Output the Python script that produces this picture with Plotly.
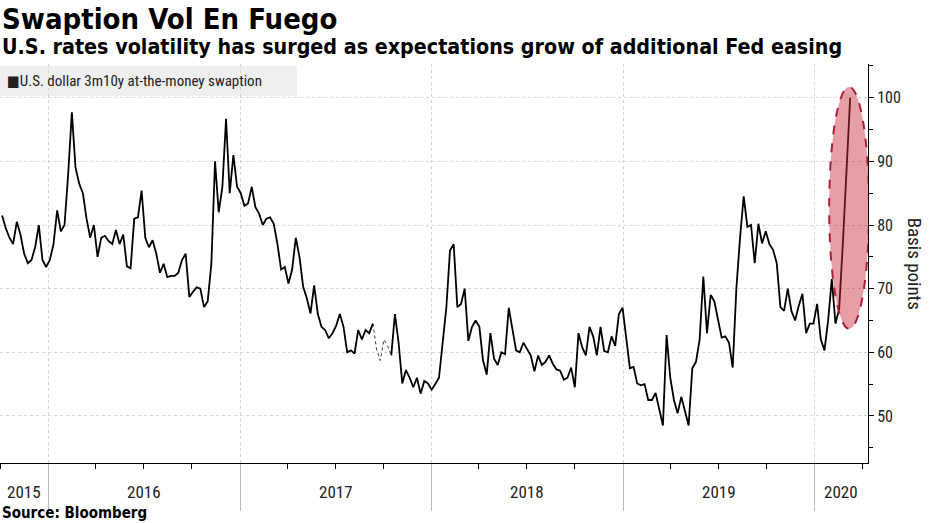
import pandas as pd
import plotly.graph_objects as go

# Weekly readings of the U.S. dollar 3m10y ATM swaption normal vol (bp)
start_date = "2015-10-05"
vol = [
    81.5, 79.5, 78, 77, 80.5, 78.5, 75.5, 74, 74.5, 76.5,
    80, 74.5, 73.4, 74.5, 77, 82.3, 79, 80, 88, 97.7,
    89, 86.5, 85, 81, 78, 80, 75, 78, 78.3, 77.5,
    77, 79.2, 77, 78.5, 73.5, 73.2, 81, 81.2, 85.4, 78,
    76.5, 77.6, 75.5, 72.5, 73.9, 71.8, 72, 72, 72.5, 74.5,
    75.5, 68.7, 69.5, 70.2, 70, 67.1, 68, 73.9, 90, 82,
    86, 96.7, 85, 91, 86, 85, 83, 83.4, 86, 82.8,
    81.8, 80, 81, 81.2, 80.2, 77, 73, 73.4, 70.8, 73,
    78, 75, 70.3, 68.5, 66.1, 70.5, 66, 64, 63.5, 62.2,
    63, 64.2, 66, 64, 60, 60.3, 59.8, 63.5, 62, 63.5,
    63, 64.5, None, None, None, None, 59.5, 66, 61.5, 55.1,
    57.2, 56, 54.5, 56, 53.5, 55.5, 55.1, 54.1, 55, 56,
    61.5, 67, 76, 77, 67.1, 67.6, 70, 61.8, 64, 65,
    64, 58.7, 56.5, 63, 59, 58, 60, 59.7, 67, 63.5,
    60.3, 60, 61.5, 60.5, 59.5, 57, 59.5, 58, 58.5, 59.5,
    58.2, 57.3, 57.1, 55.7, 56, 57.6, 54.5, 63, 60.8, 59.5,
    64, 62.5, 59.5, 64, 60.2, 60, 62.5, 61, 66, 67,
    62, 57.5, 57.7, 55.1, 54.8, 55, 52.5, 52.5, 53.6, 50.8,
    48.5, 62.7, 56, 52.5, 50.4, 53, 50.9, 48.5, 57.5, 58.5,
    62, 71.9, 63, 69, 68, 65.3, 62.3, 62.5, 61.5, 57.6,
    70, 78, 84.5, 79.7, 80, 74, 80.2, 77.1, 79, 77,
    76.1, 74, 67.1, 66.5, 70, 66.5, 65, 67.3, 69.2, 63,
    64.5, 64.5, 67.6, 62, 60.3, 65, 71.5, 64.5, 66.8, 77,
    89.7, 100,
]
# stretch with missing data (drawn dotted), weeks 101..106
gap_start_index = 101
gap_vals = [64.5, 60.5, 58.7, 62, 61, 59.5]

year_labels = ["2015", "2016", "2017", "2018", "2019", "2020"]
year_label_pos = ["2015-11-15", "2016-07-02", "2017-07-02", "2018-07-02", "2019-07-02", "2020-02-21"]
year_starts = ["2016-01-01", "2017-01-01", "2018-01-01", "2019-01-01", "2020-01-01"]
y_ticks = [50, 60, 70, 80, 90, 100]

dates = pd.date_range(start_date, periods=len(vol), freq="7D")
gap_dates = dates[gap_start_index:gap_start_index + len(gap_vals)]
quarters = list(pd.date_range("2015-10-01", "2020-04-01", freq="QS").strftime("%Y-%m-%d"))

NARROW = "Liberation Sans Narrow, Roboto Condensed, DejaVu Sans Condensed, Arial Narrow, sans-serif"
BOLD = "Liberation Sans Narrow, DejaVu Sans Condensed, Arial, sans-serif"

fig = go.Figure()
fig.add_trace(go.Scatter(x=gap_dates, y=gap_vals, mode="lines",
                         line=dict(color="#333333", width=1, dash="dot"),
                         hoverinfo="skip", showlegend=False))
fig.add_trace(go.Scatter(x=dates, y=vol, mode="lines",
                         line=dict(color="black", width=1.8),
                         connectgaps=False, showlegend=False,
                         name="U.S. dollar 3m10y at-the-money swaption"))

fig.update_layout(
    width=930, height=523,
    margin=dict(l=0, r=62, t=64, b=60),
    paper_bgcolor="white", plot_bgcolor="white",
    showlegend=False,
    font=dict(family=NARROW, color="#222222"),
)

fig.update_xaxes(
    range=["2015-10-01", "2020-04-12"],
    tickmode="array", tickvals=year_starts, showticklabels=False,
    ticks="outside", ticklen=47, tickcolor="#bbbbbb", tickwidth=1,
    showgrid=True, gridcolor="#d4d4d4", griddash="dot", gridwidth=1,
    showline=True, linecolor="black", linewidth=1,
    minor=dict(tickmode="array", tickvals=quarters,
               ticks="outside", ticklen=5, tickcolor="black", showgrid=False),
    zeroline=False,
)
fig.update_yaxes(
    side="right", range=[42.6, 105.3],
    tickmode="array", tickvals=y_ticks,
    ticks="outside", ticklen=5, tickcolor="black",
    tickfont=dict(size=16, family=NARROW, color="#222222"),
    showgrid=True, gridcolor="#d4d4d4", griddash="dot", gridwidth=1,
    showline=True, linecolor="black", linewidth=1,
    minor=dict(dtick=5, tick0=45, ticks="outside", ticklen=4, tickcolor="black", showgrid=False),
    zeroline=False,
)

annotations = []
for lab, pos in zip(year_labels, year_label_pos):
    annotations.append(dict(x=pos, y=-0.072, xref="x", yref="paper", text=lab, showarrow=False,
                            xanchor="center", yanchor="middle",
                            font=dict(size=17, family=NARROW, color="#222222")))
annotations += [
    dict(x=0.0, y=1.113, xref="paper", yref="paper", text="<b>Swaption Vol En Fuego</b>",
         showarrow=False, xanchor="left", yanchor="middle",
         font=dict(size=29, family=BOLD, color="black")),
    dict(x=0.0, y=1.043, xref="paper", yref="paper",
         text="<b>U.S. rates volatility has surged as expectations grow of additional Fed easing</b>",
         showarrow=False, xanchor="left", yanchor="middle",
         font=dict(size=21.3, family=BOLD, color="black")),
    dict(x=0.0, y=-0.125, xref="paper", yref="paper", text="<b>Source: Bloomberg</b>",
         showarrow=False, xanchor="left", yanchor="middle",
         font=dict(size=15, family=BOLD, color="black")),
    dict(x=1.054, y=0.50, xref="paper", yref="paper", text="Basis points", textangle=90,
         showarrow=False, xanchor="center", yanchor="middle",
         font=dict(size=19, family=NARROW, color="#222222")),
    dict(x=0.006, y=0.957, xref="paper", yref="paper",
         text="■U.S. dollar 3m10y at-the-money swaption",
         showarrow=False, xanchor="left", yanchor="middle",
         font=dict(size=15, family=NARROW, color="#222222")),
]
fig.update_layout(annotations=annotations)

fig.update_layout(shapes=[
    dict(type="rect", xref="paper", yref="paper", x0=0, x1=0.342, y0=0.92, y1=0.995,
         fillcolor="#efefef", line=dict(width=0), layer="below"),
    dict(type="circle", xref="x", yref="y", x0="2020-01-29", x1="2020-04-14", y0=63.7, y1=101.7,
         fillcolor="rgba(200,40,60,0.45)", line=dict(color="#a8203a", width=2, dash="dash"),
         layer="above"),
])

fig.write_html("out.html", config={"displayModeBar": False},
               post_script="document.body.style.margin='0px';")
